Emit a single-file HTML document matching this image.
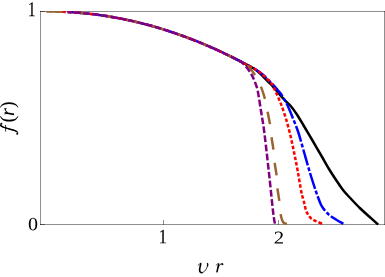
<!DOCTYPE html>
<html><head><meta charset="utf-8"><title>plot</title>
<style>html,body{margin:0;padding:0;background:#fff;}body{width:385px;height:277px;position:relative;overflow:hidden;font-family:"Liberation Serif",serif;}</style>
</head><body>
<svg width="385" height="277" viewBox="0 0 385 277" style="position:absolute;left:0;top:0">
<defs><clipPath id="c"><rect x="40" y="11" width="345" height="214.6"/></clipPath></defs>
<g stroke="#000" stroke-opacity="0.44" stroke-width="1" fill="none" shape-rendering="crispEdges">
<path d="M40 11.5H385"/>
<path d="M40 224.5H385"/>
<path d="M40.5 11V225"/>
<path d="M384.5 11V225"/>
<path d="M40 11.5H45"/>
<path d="M40 224.5H45"/>
<path d="M163.5 225V220"/>
<path d="M278.5 225V220"/>
</g>
<g clip-path="url(#c)" fill="none" stroke-width="2.5">
<path d="M230.00 56.10 C230.83 56.52 233.33 57.75 235.00 58.59 C236.67 59.43 238.33 60.28 240.00 61.15 C241.67 62.01 243.33 62.88 245.00 63.77 C246.67 64.66 248.33 65.55 250.00 66.46 C251.67 67.37 253.17 67.91 255.00 69.22 C256.83 70.53 259.30 72.74 261.00 74.30 C262.70 75.86 263.62 76.98 265.20 78.60 C266.78 80.22 268.33 81.65 270.50 84.00 C272.67 86.35 276.02 90.20 278.20 92.70 C280.38 95.20 281.52 96.78 283.60 99.00 C285.68 101.22 288.65 103.67 290.70 106.00 C292.75 108.33 294.50 111.00 295.90 113.00 C297.30 115.00 297.87 116.00 299.10 118.00 C300.33 120.00 301.07 121.25 303.30 125.00 C305.53 128.75 309.37 135.17 312.50 140.50 C315.63 145.83 319.25 152.08 322.10 157.00 C324.95 161.92 327.27 166.17 329.60 170.00 C331.93 173.83 333.80 176.58 336.10 180.00 C338.40 183.42 340.82 187.25 343.40 190.50 C345.98 193.75 348.87 196.58 351.60 199.50 C354.33 202.42 356.93 205.22 359.80 208.00 C362.67 210.78 365.73 213.43 368.80 216.20 C371.87 218.97 376.63 223.20 378.20 224.60" stroke="#000000"/>
<path d="M46.20 11.51 C46.53 11.50 47.53 11.50 48.20 11.50 C48.87 11.50 49.73 11.50 50.20 11.50 C50.67 11.51 50.87 11.51 51.00 11.51" stroke="#996633"/>
<path d="M60.40 11.70 C61.40 11.74 64.40 11.84 66.40 11.94 C68.40 12.04 70.40 12.15 72.40 12.28 C74.40 12.41 76.40 12.56 78.40 12.72 C80.40 12.89 82.40 13.07 84.40 13.26 C86.40 13.46 88.40 13.67 90.40 13.89 C92.40 14.12 94.40 14.37 96.40 14.63 C98.40 14.89 100.40 15.16 102.40 15.45 C104.40 15.75 106.40 16.05 108.40 16.38 C110.40 16.70 112.40 17.05 114.40 17.40 C116.40 17.76 118.40 18.13 120.40 18.52 C122.40 18.91 124.40 19.32 126.40 19.74 C128.40 20.16 130.40 20.60 132.40 21.06 C134.40 21.51 136.40 21.98 138.40 22.47 C140.40 22.95 142.40 23.46 144.40 23.98 C146.40 24.50 148.40 25.03 150.40 25.58 C152.40 26.13 154.40 26.70 156.40 27.29 C158.40 27.87 160.40 28.47 162.40 29.09 C164.40 29.70 166.40 30.34 168.40 30.99 C170.40 31.64 172.40 32.30 174.40 32.98 C176.40 33.66 178.40 34.36 180.40 35.08 C182.40 35.79 184.40 36.52 186.40 37.27 C188.40 38.01 190.40 38.77 192.40 39.55 C194.40 40.33 196.40 41.13 198.40 41.94 C200.40 42.75 202.40 43.58 204.40 44.42 C206.40 45.26 208.40 46.12 210.40 47.00 C212.40 47.87 214.40 48.77 216.40 49.68 C218.40 50.58 220.40 51.51 222.40 52.45 C224.40 53.39 226.40 54.35 228.40 55.32 C230.40 56.29 232.40 57.28 234.40 58.29 C236.40 59.29 238.40 60.32 240.40 61.35 C242.40 62.39 244.40 63.45 246.40 64.52 C248.40 65.59 250.80 66.90 252.40 67.78 C254.00 68.65 254.40 68.74 256.00 69.78 C257.60 70.82 259.58 71.96 262.00 74.00 C264.42 76.04 267.90 79.33 270.50 82.00 C273.10 84.67 275.87 88.03 277.60 90.00 C279.33 91.97 279.68 92.08 280.90 93.80 C282.12 95.52 283.62 97.97 284.90 100.30 C286.18 102.63 287.28 104.85 288.60 107.80 C289.92 110.75 291.20 113.97 292.80 118.00 C294.40 122.03 296.33 126.33 298.20 132.00 C300.07 137.67 302.03 145.18 304.00 152.00 C305.97 158.82 308.10 166.60 310.00 172.90 C311.90 179.20 314.02 185.62 315.40 189.80 C316.78 193.98 317.35 195.47 318.30 198.00 C319.25 200.53 320.23 203.20 321.10 205.00 C321.97 206.80 322.62 207.62 323.50 208.80 C324.38 209.98 325.42 211.05 326.40 212.10 C327.38 213.15 327.80 213.87 329.40 215.10 C331.00 216.33 333.68 218.05 336.00 219.50 C338.32 220.95 342.08 223.08 343.30 223.80" stroke="#0000ff" stroke-dasharray="16.4 2.1 3.9 2.1" stroke-dashoffset="-7.0"/>
<path d="M60.40 11.70 C61.40 11.74 64.40 11.84 66.40 11.94 C68.40 12.04 70.40 12.15 72.40 12.28 C74.40 12.41 76.40 12.56 78.40 12.72 C80.40 12.89 82.40 13.07 84.40 13.26 C86.40 13.46 88.40 13.67 90.40 13.89 C92.40 14.12 94.40 14.37 96.40 14.63 C98.40 14.89 100.40 15.16 102.40 15.45 C104.40 15.75 106.40 16.05 108.40 16.38 C110.40 16.70 112.40 17.05 114.40 17.40 C116.40 17.76 118.40 18.13 120.40 18.52 C122.40 18.91 124.40 19.32 126.40 19.74 C128.40 20.16 130.40 20.60 132.40 21.06 C134.40 21.51 136.40 21.98 138.40 22.47 C140.40 22.95 142.40 23.46 144.40 23.98 C146.40 24.50 148.40 25.03 150.40 25.58 C152.40 26.13 154.40 26.70 156.40 27.29 C158.40 27.87 160.40 28.47 162.40 29.09 C164.40 29.70 166.40 30.34 168.40 30.99 C170.40 31.64 172.40 32.30 174.40 32.98 C176.40 33.66 178.40 34.36 180.40 35.08 C182.40 35.79 184.40 36.52 186.40 37.27 C188.40 38.01 190.40 38.77 192.40 39.55 C194.40 40.33 196.40 41.13 198.40 41.94 C200.40 42.75 202.40 43.58 204.40 44.42 C206.40 45.26 208.40 46.12 210.40 47.00 C212.40 47.87 214.40 48.77 216.40 49.68 C218.40 50.58 220.40 51.51 222.40 52.45 C224.40 53.39 226.40 54.35 228.40 55.32 C230.40 56.29 232.40 57.28 234.40 58.29 C236.40 59.29 238.40 60.32 240.40 61.35 C242.40 62.39 244.40 63.45 246.40 64.52 C248.40 65.59 250.80 66.90 252.40 67.78 C254.00 68.65 254.40 68.74 256.00 69.78 C257.60 70.82 259.58 71.91 262.00 74.00 C264.42 76.09 268.58 80.13 270.50 82.30 C272.42 84.47 272.58 85.28 273.50 87.00 C274.42 88.72 274.78 89.83 276.00 92.60 C277.22 95.37 279.22 99.50 280.80 103.60 C282.38 107.70 284.00 112.32 285.50 117.20 C287.00 122.08 288.38 127.10 289.80 132.90 C291.22 138.70 292.68 145.65 294.00 152.00 C295.32 158.35 296.47 164.30 297.70 171.00 C298.93 177.70 300.48 187.53 301.40 192.20 C302.32 196.87 302.67 196.95 303.20 199.00 C303.73 201.05 304.18 202.75 304.60 204.50 C305.02 206.25 305.17 207.88 305.70 209.50 C306.23 211.12 306.88 212.70 307.80 214.20 C308.72 215.70 309.78 217.32 311.20 218.50 C312.62 219.68 314.37 220.38 316.30 221.30 C318.23 222.22 321.72 223.55 322.80 224.00" stroke="#ff0000" stroke-dasharray="3.6 2.0" stroke-dashoffset="-1.6"/>
<path d="M46.20 11.51 C47.20 11.51 50.20 11.50 52.20 11.52 C54.20 11.54 56.20 11.58 58.20 11.63 C60.20 11.69 62.20 11.76 64.20 11.84 C66.20 11.93 68.20 12.03 70.20 12.15 C72.20 12.27 74.20 12.40 76.20 12.55 C78.20 12.70 80.20 12.87 82.20 13.05 C84.20 13.24 86.20 13.44 88.20 13.65 C90.20 13.87 92.20 14.10 94.20 14.35 C96.20 14.59 98.20 14.86 100.20 15.14 C102.20 15.42 104.20 15.72 106.20 16.03 C108.20 16.34 110.20 16.67 112.20 17.02 C114.20 17.36 116.20 17.72 118.20 18.10 C120.20 18.48 122.20 18.87 124.20 19.28 C126.20 19.69 128.20 20.12 130.20 20.56 C132.20 21.00 134.20 21.46 136.20 21.94 C138.20 22.41 140.20 22.90 142.20 23.41 C144.20 23.92 146.20 24.44 148.20 24.98 C150.20 25.52 152.20 26.08 154.20 26.65 C156.20 27.22 158.20 27.81 160.20 28.42 C162.20 29.02 164.20 29.64 166.20 30.28 C168.20 30.92 170.20 31.57 172.20 32.24 C174.20 32.91 176.20 33.59 178.20 34.30 C180.20 35.00 182.20 35.72 184.20 36.45 C186.20 37.19 188.20 37.94 190.20 38.70 C192.20 39.47 194.20 40.25 196.20 41.05 C198.20 41.85 200.20 42.67 202.20 43.50 C204.20 44.33 206.20 45.18 208.20 46.04 C210.20 46.91 212.20 47.79 214.20 48.68 C216.20 49.58 218.20 50.49 220.20 51.42 C222.20 52.35 224.20 53.29 226.20 54.26 C228.20 55.22 230.20 56.20 232.20 57.19 C234.20 58.18 236.90 59.56 238.20 60.22 C239.50 60.88 239.03 60.65 240.00 61.15 C240.97 61.64 242.78 62.42 244.00 63.20 C245.22 63.98 246.17 64.78 247.30 65.80 C248.43 66.82 249.67 67.97 250.80 69.30 C251.93 70.63 252.98 72.15 254.10 73.80 C255.22 75.45 256.43 77.25 257.50 79.20 C258.57 81.15 259.30 82.37 260.50 85.50 C261.70 88.63 263.53 93.68 264.70 98.00 C265.87 102.32 266.63 107.10 267.50 111.40 C268.37 115.70 269.23 119.52 269.90 123.80 C270.57 128.08 270.92 132.83 271.50 137.10 C272.08 141.37 272.87 145.08 273.40 149.40 C273.93 153.72 274.17 158.63 274.70 163.00 C275.23 167.37 276.13 171.32 276.60 175.60 C277.07 179.88 277.03 184.40 277.50 188.70 C277.97 193.00 278.85 197.08 279.40 201.40 C279.95 205.72 280.43 211.75 280.80 214.60 C281.17 217.45 281.25 217.32 281.60 218.50 C281.95 219.68 282.37 220.90 282.90 221.70 C283.43 222.50 283.95 222.92 284.80 223.30 C285.65 223.68 287.47 223.88 288.00 224.00" stroke="#996633" stroke-dasharray="12.6 13.2" stroke-dashoffset="-3.9"/>
<path d="M68.20 12.04 C69.20 12.10 72.20 12.27 74.20 12.41 C76.20 12.55 78.20 12.70 80.20 12.87 C82.20 13.05 84.20 13.24 86.20 13.44 C88.20 13.65 90.20 13.87 92.20 14.10 C94.20 14.34 96.20 14.59 98.20 14.86 C100.20 15.13 102.20 15.42 104.20 15.72 C106.20 16.02 108.20 16.34 110.20 16.68 C112.20 17.01 114.20 17.36 116.20 17.73 C118.20 18.10 120.20 18.48 122.20 18.88 C124.20 19.28 126.20 19.69 128.20 20.12 C130.20 20.56 132.20 21.00 134.20 21.47 C136.20 21.93 138.20 22.41 140.20 22.91 C142.20 23.41 144.20 23.92 146.20 24.45 C148.20 24.98 150.20 25.52 152.20 26.08 C154.20 26.65 156.20 27.22 158.20 27.82 C160.20 28.41 162.20 29.02 164.20 29.65 C166.20 30.27 168.20 30.92 170.20 31.57 C172.20 32.23 174.20 32.91 176.20 33.60 C178.20 34.29 180.20 35.00 182.20 35.72 C184.20 36.45 186.20 37.19 188.20 37.94 C190.20 38.70 192.20 39.47 194.20 40.26 C196.20 41.05 198.20 41.85 200.20 42.67 C202.20 43.49 204.20 44.33 206.20 45.18 C208.20 46.04 210.20 46.91 212.20 47.79 C214.20 48.68 216.20 49.58 218.20 50.50 C220.20 51.42 222.20 52.35 224.20 53.30 C226.20 54.25 228.20 55.22 230.20 56.20 C232.20 57.18 234.90 58.55 236.20 59.20 C237.50 59.85 237.20 59.68 238.00 60.12 C238.80 60.55 239.97 61.05 241.00 61.80 C242.03 62.55 243.12 63.50 244.20 64.60 C245.28 65.70 246.45 67.03 247.50 68.40 C248.55 69.77 249.58 71.30 250.50 72.80 C251.42 74.30 252.22 75.75 253.00 77.40 C253.78 79.05 254.42 80.47 255.20 82.70 C255.98 84.93 256.70 85.88 257.70 90.80 C258.70 95.72 260.12 105.42 261.20 112.20 C262.28 118.98 262.92 121.50 264.20 131.50 C265.48 141.50 267.43 158.95 268.90 172.20 C270.37 185.45 272.00 202.40 273.00 211.00 C274.00 219.60 274.58 221.67 274.90 223.80" stroke="#800080" stroke-dasharray="6.7 2.4" stroke-dashoffset="3.2"/>
</g>
<path transform="translate(27.6,16.2) scale(0.00807,-0.01035)" d="M627 80 901 53V0H180V53L455 80V1174L184 1077V1130L575 1352H627Z" fill="#000"/>
<path transform="translate(28.0,230.2) scale(0.00981,-0.00908)" d="M946 676Q946 -20 506 -20Q294 -20 186 158Q78 336 78 676Q78 1009 186 1186Q294 1362 514 1362Q726 1362 836 1188Q946 1013 946 676ZM762 676Q762 998 701 1140Q640 1282 506 1282Q376 1282 319 1148Q262 1014 262 676Q262 336 320 198Q378 59 506 59Q638 59 700 204Q762 350 762 676Z" fill="#000"/>
<path transform="translate(158.4,243.3) scale(0.00855,-0.01006)" d="M627 80 901 53V0H180V53L455 80V1174L184 1077V1130L575 1352H627Z" fill="#000"/>
<path transform="translate(273.8,243.6) scale(0.01008,-0.00884)" d="M911 0H90V147L276 316Q455 473 539 570Q623 667 660 770Q696 873 696 1006Q696 1136 637 1204Q578 1272 444 1272Q391 1272 335 1258Q279 1243 236 1219L201 1055H135V1313Q317 1356 444 1356Q664 1356 774 1264Q885 1173 885 1006Q885 894 842 794Q798 695 708 596Q618 498 410 321Q321 245 221 154H911Z" fill="#000"/>
<g fill="none" stroke="#000" stroke-linecap="round" stroke-linejoin="round">
<path d="M198.3 265.3C198.9 264.2 199.7 263.3 200.6 263.4" stroke-width="0.7"/>
<path d="M200.7 263.6C200.5 266 199.5 268.6 199.6 270.3C199.7 271.9 200.6 272.7 201.9 272.7" stroke-width="1.6"/>
<path d="M201.9 272.7C203.7 272.7 205.7 270.4 206.9 267.6C207.6 266 207.9 264.5 207.6 263.5" stroke-width="0.8"/>
<path d="M207.5 266.0C207.8 265 207.8 264.2 207.5 263.6" stroke-width="1.3"/>
<path d="M216.3 265.2C216.9 264.1 217.7 263.3 218.5 263.4" stroke-width="0.7"/>
<path d="M218.8 263.6L216.9 272.4" stroke-width="1.6" stroke-linecap="butt"/>
<path d="M218.0 267.6C219.2 265.2 220.6 263.5 221.9 263.5" stroke-width="0.8"/>
</g>
<circle cx="222.4" cy="264.3" r="1.0" fill="#000"/>
<g transform="translate(14.1,136) rotate(-90)">
<g transform="translate(-0.6,0.2)"><g fill="none" stroke="#000" stroke-linecap="round">
<path d="M2.70 3.00 C2.83 3.13 3.13 3.87 3.50 3.80 C3.87 3.73 4.45 3.23 4.90 2.60 C5.35 1.97 5.80 1.12 6.20 0.00 C6.60 -1.12 6.88 -2.67 7.30 -4.10 C7.72 -5.53 8.27 -7.28 8.70 -8.60 C9.13 -9.92 9.48 -11.15 9.90 -12.00 C10.32 -12.85 10.78 -13.38 11.20 -13.70 C11.62 -14.02 12.12 -13.98 12.40 -13.90 C12.68 -13.82 12.82 -13.32 12.90 -13.20" stroke-width="0.75"/>
<path d="M4.90 2.60 C5.12 2.17 5.80 1.12 6.20 0.00 C6.60 -1.12 6.88 -2.67 7.30 -4.10 C7.72 -5.53 8.27 -7.28 8.70 -8.60 C9.13 -9.92 9.48 -11.15 9.90 -12.00 C10.32 -12.85 10.98 -13.42 11.20 -13.70" stroke-width="1.5"/>
<path d="M5.0 -8.7H11.6" stroke-width="0.8" stroke-linecap="butt"/>
</g>
<circle cx="2.8" cy="2.9" r="0.95" fill="#000"/><circle cx="12.8" cy="-12.9" r="0.95" fill="#000"/></g>
<path transform="translate(13.5,0) scale(0.01001,-0.01001)" d="M283 494Q283 234 318 80Q353 -75 428 -181Q503 -287 616 -352V-436Q418 -331 306 -206Q195 -82 142 86Q90 255 90 494Q90 732 142 900Q194 1067 305 1191Q416 1315 616 1421V1337Q494 1267 422 1158Q350 1048 316 902Q283 756 283 494Z" fill="#000"/>
<path transform="translate(20.0,0) scale(0.01001,-0.01001)" d="M724 965Q774 965 803 957L759 711H716L678 838Q598 838 512 777Q427 716 356 616L249 0H83L236 870L118 895L126 940H403L372 728Q447 841 540 903Q632 965 724 965Z" fill="#000"/>
<path transform="translate(27.9,0) scale(0.01001,-0.01001)" d="M66 -436V-352Q179 -287 254 -180Q329 -74 364 80Q399 235 399 494Q399 756 366 902Q332 1048 260 1158Q188 1267 66 1337V1421Q266 1314 377 1190Q488 1067 540 900Q592 732 592 494Q592 256 540 88Q488 -81 377 -205Q266 -329 66 -436Z" fill="#000"/>
</g>
</svg>
</body></html>
